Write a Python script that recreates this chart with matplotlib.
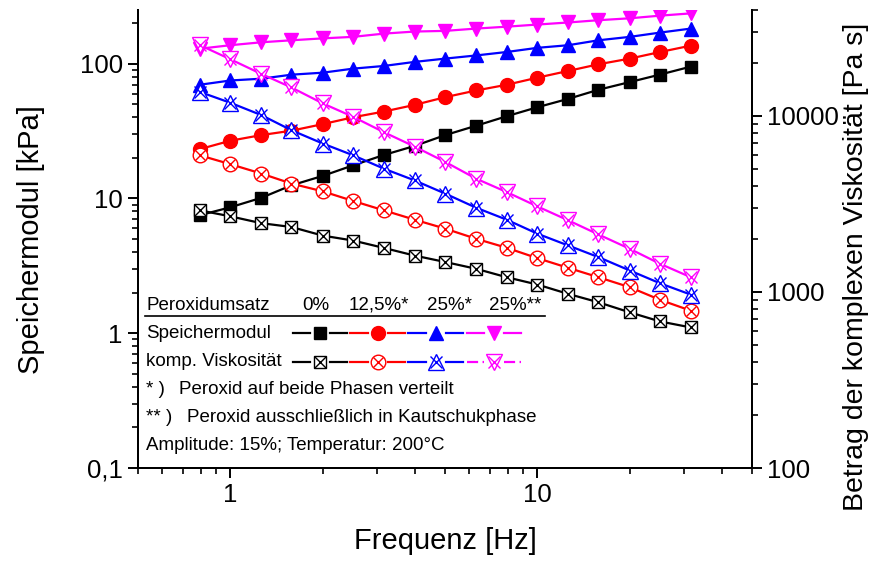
import matplotlib
matplotlib.use("Agg")
import matplotlib.pyplot as plt
from matplotlib.lines import Line2D
from matplotlib.ticker import FixedLocator, FixedFormatter, LogLocator, NullFormatter

plt.rcParams['font.family'] = ['Liberation Sans', 'DejaVu Sans']

# frequency sweep [Hz]
freq = [0.794, 1.0, 1.26, 1.58, 2.0, 2.51, 3.16, 3.98, 5.01, 6.31,
        7.94, 10.0, 12.6, 15.8, 20.0, 25.1, 31.6]

# storage modulus [kPa]
g_0 = [7.5, 8.6, 10.1, 12.5, 14.7, 17.6, 21.0, 24.5, 29.5, 34.6,
       40.7, 47.5, 54.8, 64, 73, 83, 95]
g_125 = [23.2, 26.8, 29.5, 31.8, 35.6, 40.0, 44.1, 49.4, 56.4, 63.2,
         69.7, 78.7, 88.3, 98.9, 109, 122, 136]
g_25 = [69.7, 75.0, 77.3, 82.8, 85.7, 91.8, 96.1, 103, 109, 115,
        122, 131, 137, 149, 158, 170, 182]
g_25k = [129, 137, 144, 149, 154, 158, 167, 173, 175, 182,
         188, 195, 202, 210, 217, 227, 236]

# magnitude of complex viscosity [Pa s]
eta_0 = [2910, 2690, 2460, 2340, 2090, 1960, 1780, 1610, 1480, 1355,
         1213, 1102, 975, 874, 766, 680, 629]
eta_125 = [5980, 5320, 4710, 4130, 3730, 3290, 2910, 2575, 2290, 2006,
           1783, 1556, 1371, 1213, 1064, 902, 783]
eta_25 = [13710, 11880, 10120, 8300, 6970, 5980, 5020, 4305, 3620, 3013,
          2575, 2143, 1837, 1578, 1324, 1120, 966]
eta_25k = [25300, 20990, 17340, 14520, 11780, 9890, 8090, 6700, 5480, 4406,
           3697, 3062, 2553, 2123, 1758, 1445, 1213]

columns = ['0%', '12,5%*', '25%*', '25%**']
colors = ['#000000', '#ff0000', '#0000ff', '#ff00ff']
g_sets = [g_0, g_125, g_25, g_25k]
eta_sets = [eta_0, eta_125, eta_25, eta_25k]

# filled symbol (marker, size) and open symbol (marker, size, cross size)
filled = [('s', 8.5), ('o', 10), ('^', 10.5), ('v', 10.5)]
hollow = [('s', 8.5, 8.5), ('o', 10.5, 7.5), ('^', 11.5, 8), ('v', 11.5, 8)]

W, H = 874, 565
fig = plt.figure(figsize=(W / 100, H / 100), dpi=100)


def fx(x):
    return x / W


def fy(y):
    return 1 - y / H


ax = fig.add_axes([fx(138), fy(468), (752 - 138) / W, (468 - 10) / H])
ax2 = ax.twinx()

for c, g, (m, s) in zip(colors, g_sets, filled):
    ax.plot(freq, g, color=c, lw=1.6, marker=m, ms=s, mfc=c, mec=c, zorder=3)

for c, e, (m, s, xs) in zip(colors, eta_sets, hollow):
    ax2.plot(freq, e, color=c, lw=1.6, marker=m, ms=s, mfc='white',
             mec=c, mew=1.0, zorder=3)
    ax2.plot(freq, e, ls='none', marker='x', ms=xs, mec=c, mew=1.0, zorder=4)

ax.set_xscale('log')
ax.set_yscale('log')
ax2.set_yscale('log')
ax.set_xlim(0.5, 50)
ax.set_ylim(0.1, 250)
ax2.set_ylim(100, 40000)

ax.xaxis.set_major_locator(FixedLocator([1, 10]))
ax.xaxis.set_major_formatter(FixedFormatter(['1', '10']))
ax.xaxis.set_minor_locator(LogLocator(base=10, subs=range(2, 10)))
ax.xaxis.set_minor_formatter(NullFormatter())

ax.yaxis.set_major_locator(FixedLocator([0.1, 1, 10, 100]))
ax.yaxis.set_major_formatter(FixedFormatter(['0,1', '1', '10', '100']))
ax.yaxis.set_minor_locator(LogLocator(base=10, subs=range(2, 10)))
ax.yaxis.set_minor_formatter(NullFormatter())

ax2.yaxis.set_major_locator(FixedLocator([100, 1000, 10000]))
ax2.yaxis.set_major_formatter(FixedFormatter(['100', '1000', '10000']))
ax2.yaxis.set_minor_locator(LogLocator(base=10, subs=range(2, 10)))
ax2.yaxis.set_minor_formatter(NullFormatter())

for a in (ax, ax2):
    a.spines['top'].set_visible(False)
    for sp in a.spines.values():
        sp.set_linewidth(1.4)
ax.tick_params(which='major', direction='out', length=7, width=1.4,
               labelsize=18.5, pad=4)
ax.tick_params(which='minor', direction='out', length=4, width=1.2)
ax.tick_params(axis='y', right=False)
ax2.tick_params(which='major', direction='out', length=7, width=1.4,
                labelsize=18.5, pad=4)
ax2.tick_params(which='minor', direction='out', length=4, width=1.2)

ax.set_xlabel('Frequenz [Hz]', fontsize=21, labelpad=14)
fig.text(fx(31), fy(240), 'Speichermodul [kPa]', fontsize=21, rotation=90,
         ha='center', va='center')
fig.text(fx(856), fy(267), 'Betrag der komplexen Viskosität [Pa s]',
         fontsize=20.5, rotation=90, ha='center', va='center')

# legend table
fs = 13.5
fig.text(fx(146), fy(305), 'Peroxidumsatz', fontsize=fs, va='center')
for x, label in zip([316, 379, 450, 515], columns):
    fig.text(fx(x), fy(305), label, fontsize=fs, va='center', ha='center')
fig.add_artist(Line2D([fx(145), fx(545)], [fy(316), fy(316)], color='black',
                      lw=1.2))

fig.text(fx(146), fy(333), 'Speichermodul', fontsize=fs, va='center')
fig.text(fx(146), fy(362), 'komp. Viskosität', fontsize=fs, va='center')
row_x = [(293, 347), (350, 405), (408, 463), (467, 521)]
gap = 10
for i, (c, (x0, x1)) in enumerate(zip(colors, row_x)):
    xc = (x0 + x1) / 2
    ls = (0, (5, 2, 1.5, 2, 1.5, 2)) if i == 3 else '-'
    for y, style in ((333, '-'), (362, ls)):
        for a, b in ((x0, xc - gap), (xc + gap, x1)):
            fig.add_artist(Line2D([fx(a), fx(b)], [fy(y), fy(y)], color=c,
                                  lw=1.6, ls=style))
    m, s = filled[i]
    fig.add_artist(Line2D([fx(xc)], [fy(333)], marker=m, ms=s, mfc=c, mec=c,
                          ls='none'))
    m, s, xs = hollow[i]
    fig.add_artist(Line2D([fx(xc)], [fy(362)], marker=m, ms=s, mfc='white',
                          mec=c, mew=1.0, ls='none'))
    fig.add_artist(Line2D([fx(xc)], [fy(362)], marker='x', ms=xs, mec=c,
                          mew=1.0, ls='none'))

fig.text(fx(146), fy(390), '* )', fontsize=fs, va='center')
fig.text(fx(179), fy(390), 'Peroxid auf beide Phasen verteilt', fontsize=fs,
         va='center')
fig.text(fx(146), fy(417), '** )', fontsize=fs, va='center')
fig.text(fx(187), fy(417), 'Peroxid ausschließlich in Kautschukphase',
         fontsize=fs, va='center')
fig.text(fx(146), fy(445), 'Amplitude: 15%; Temperatur: 200°C', fontsize=fs,
         va='center')

fig.savefig('out.png', dpi=100)
